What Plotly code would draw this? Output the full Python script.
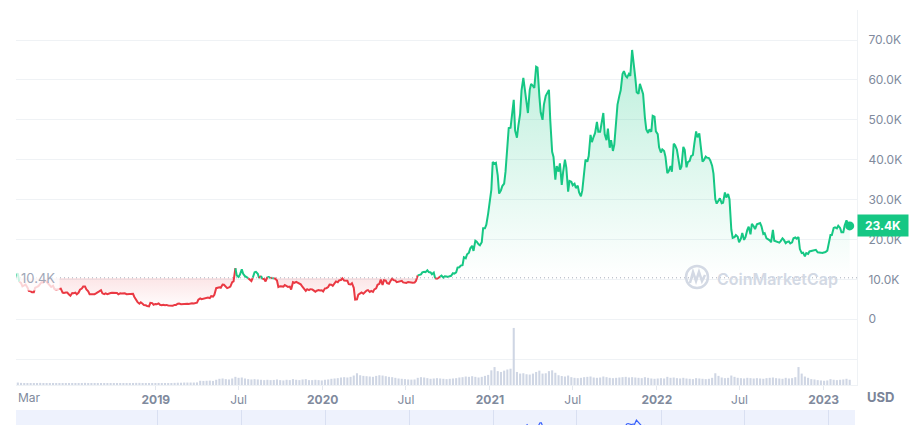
import pandas as pd
import plotly.graph_objects as go

# ---------------- data ----------------
# Monday readings, one per week from 2018-02-26
p2018 = [10400, 11500, 9100, 8600, 8000, 7000, 6800, 8100, 8900, 9250,
         9400, 8700, 8400, 7400, 7600, 6700, 6700, 6200, 6600, 6700,
         6700, 7700, 8200, 7000, 6300, 6300, 6900, 7300, 6300, 6300,
         6600, 6600, 6600, 6500, 6500, 6300, 6400, 6400, 4800, 3900,
         3900, 3500, 3250, 4050, 3850]
p2019 = [4000, 3550, 3550, 3450, 3450, 3600, 3900, 3800, 3800, 3900,
         4000, 3950, 4150, 5250, 5150, 5400, 5300, 5700, 7800, 8000,
         8700, 8100, 8000, 9300, 12800, 10600, 12500, 10800, 10300, 9600,
         11800, 11400, 10900, 10100, 10600, 10300, 10200, 9700, 8300, 8200,
         8300, 8200, 9300, 9400, 8800, 8100, 7100, 7300, 7500, 6900,
         7300, 7250]
p2020 = [7750, 8100, 8650, 8900, 9300, 9850, 9700, 9650, 8750, 7900,
         5000, 6400, 6400, 7200, 6850, 6850, 7750, 8900, 8600, 9700,
         8900, 10200, 9700, 9450, 9650, 9200, 9350, 9250, 9200, 11000,
         11250, 11900, 12300, 11750, 11700, 10150, 10700, 10450, 10700, 10800,
         11550, 11750, 13050, 13550, 15300, 16700, 18400, 19700, 18800, 19300,
         22800, 26500]
p2021 = [32500, 39000, 36000, 32300, 34000, 44000, 48000, 55000, 45500, 51500,
         60500, 55000, 57500, 58500, 63300, 56000, 50000, 56000, 57500, 42000,
         35000, 37000, 33700, 40000, 32000, 34500, 34000, 33500, 30800, 37200,
         39500, 46200, 45800, 49500, 47000, 51700, 44900, 43000, 42200, 49000,
         56000, 61500, 61000, 61500, 67500, 60500, 56500, 57500, 50500, 46700,
         47000, 50800]
p2022 = [46400, 41800, 42200, 36600, 38400, 44000, 42500, 37500, 43200, 38100,
         39700, 41200, 47100, 46600, 39500, 40800, 40400, 38500, 30100, 29900,
         29100, 31800, 31400, 22500, 20600, 20700, 20200, 19900, 22400, 21300,
         23300, 23800, 24100, 21400, 20300, 19800, 22400, 19500, 19200, 20300,
         19100, 19500, 19300, 20500, 20600, 16600, 15800, 16400, 17100, 17200,
         16800, 16700]
p2023 = [16700, 17200, 21100, 22900, 22800, 22900, 21800, 24800, 23400]

# Thursday readings, one per week from 2018-03-01
t2018 = [10900, 9400, 8250, 8700, 7100, 6800, 7900, 8300, 9300, 9700,
         9000, 8100, 7600, 7500, 7700, 6600, 6700, 5900, 6550, 6250,
         7400, 8200, 7500, 6300, 6300, 6500, 7000, 6500, 6500, 6500,
         6650, 6550, 6250, 6450, 6500, 6350, 6450, 5600, 4300, 4250,
         3550, 3300, 4100, 3650]
t2019 = [3800, 3650, 3650, 3600, 3450, 3400, 3600, 3950, 3850, 3850,
         3850, 4000, 4050, 4900, 5050, 5300, 5450, 5800, 6150, 7900,
         7900, 8650, 7800, 8200, 9500, 11000, 11200, 11400, 10600, 9900,
         10400, 11900, 10300, 10100, 9500, 10600, 10400, 10200, 8100, 8250,
         8600, 8100, 7450, 9150, 9200, 8750, 7650, 7550, 7550, 7250,
         7150, 7200]
t2020 = [6950, 7800, 8700, 8400, 9500, 9750, 10250, 9600, 8800, 9050,
         4950, 6200, 6750, 6800, 7300, 7100, 7500, 8650, 9950, 9800,
         9050, 9550, 9800, 9300, 9400, 9250, 9100, 9250, 9150, 9600,
         11100, 11750, 11800, 11850, 11300, 10250, 10350, 10950, 10750, 10600,
         10900, 11450, 12950, 13450, 15550, 16300, 17800, 17150, 19450, 18550,
         22800, 23700, 29000]
t2021 = [39400, 39200, 31500, 33400, 37000, 47900, 51700, 47300, 48400, 57300,
         57900, 51700, 59000, 58000, 63100, 51800, 53800, 56700, 49700, 40700,
         38400, 39100, 36900, 38000, 34700, 33600, 32900, 31800, 32300, 40000,
         40900, 44400, 46700, 47000, 49300, 46400, 47800, 44900, 43800, 53800,
         57400, 62200, 60600, 61000, 64900, 56900, 59000, 56500, 47600, 47600,
         51000, 47100]
t2022 = [43100, 42600, 40700, 37100, 37000, 43600, 40500, 38300, 42500, 39400,
         40900, 43900, 45600, 43500, 39900, 40500, 39800, 36500, 29000, 30300,
         29200, 30500, 30100, 20400, 21100, 19300, 21600, 20600, 23200, 23900,
         22600, 23900, 23300, 21600, 20100, 19300, 19700, 19400, 19600, 19900,
         19400, 19000, 20300, 20200, 17600, 16700, 16600, 17000, 17200, 17400,
         16800, 16600]
t2023 = [16850, 18850, 21100, 23050, 23450, 21800, 23500, 23900]

# weekly volume (billions USD), Mondays from 2018-02-26
v2018 = [14, 15, 13, 12, 12, 11, 11, 12, 13, 12,
         12, 11, 11, 10, 11, 10, 10, 10, 9, 10,
         10, 12, 13, 11, 10, 10, 11, 12, 10, 10,
         9, 9, 9, 9, 9, 9, 10, 10, 13, 13,
         12, 11, 12, 12, 11]
v2019 = [11, 12, 11, 11, 12, 13, 14, 14, 15, 15,
         15, 15, 16, 26, 25, 26, 27, 25, 32, 38,
         40, 36, 34, 40, 50, 44, 46, 40, 36, 34,
         36, 34, 32, 30, 32, 30, 31, 34, 30, 28,
         32, 30, 36, 32, 30, 34, 36, 30, 30, 32,
         30, 28]
v2020 = [32, 34, 38, 40, 42, 46, 48, 46, 50, 58,
         72, 60, 56, 54, 52, 50, 56, 60, 58, 54,
         50, 48, 44, 40, 38, 36, 34, 33, 34, 44,
         48, 46, 42, 38, 40, 42, 40, 38, 36, 38,
         40, 42, 46, 48, 52, 50, 54, 50, 46, 50,
         56, 62]
v2021 = [90, 110, 85, 80, 88, 95, 100, 350, 80, 70,
         72, 66, 64, 70, 80, 88, 70, 72, 85, 90,
         75, 60, 55, 52, 58, 48, 44, 42, 44, 48,
         50, 52, 46, 44, 46, 52, 48, 44, 42, 44,
         46, 48, 50, 46, 48, 46, 44, 42, 48, 44,
         40, 38]
v2022 = [40, 42, 40, 50, 44, 46, 42, 40, 44, 40,
         38, 36, 42, 40, 38, 36, 38, 44, 72, 56,
         46, 42, 44, 58, 50, 44, 42, 40, 44, 42,
         40, 42, 40, 38, 42, 44, 46, 42, 40, 38,
         44, 40, 42, 48, 110, 70, 52, 44, 36, 34,
         30, 28]
v2023 = [26, 28, 36, 32, 30, 32, 34, 38, 32]

mon_prices = p2018 + p2019 + p2020 + p2021 + p2022 + p2023
thu_prices = t2018 + t2019 + t2020 + t2021 + t2022 + t2023
volumes = v2018 + v2019 + v2020 + v2021 + v2022 + v2023

mon_dates = pd.date_range("2018-02-26", periods=len(mon_prices), freq="7D")
thu_dates = pd.date_range("2018-03-01", periods=len(thu_prices), freq="7D")
vol_dates = pd.date_range("2018-02-26", periods=len(volumes), freq="7D")

df = pd.concat([pd.DataFrame({"date": mon_dates, "price": mon_prices}),
                pd.DataFrame({"date": thu_dates, "price": thu_prices})])
df = df.sort_values("date").reset_index(drop=True)
dates = list(df["date"])
prices = list(df["price"])

BASELINE = mon_prices[0]
baseline_label = "10.4K"
last_label = "23.4K"

y_tick_vals = [-10000, 0, 10000, 20000, 30000, 40000, 50000, 60000, 70000]
y_tick_text = ["", "0", "10.0K", "20.0K", "30.0K", "40.0K", "50.0K", "60.0K", "70.0K"]
x_tick_dates = ["2019-01-01", "2019-07-01", "2020-01-01", "2020-07-01", "2021-01-01",
                "2021-07-01", "2022-01-01", "2022-07-01", "2023-01-01"]
x_tick_text = ["<b>2019</b>", "Jul", "<b>2020</b>", "Jul", "<b>2021</b>", "Jul",
               "<b>2022</b>", "Jul", "<b>2023</b>"]
first_month_label = "Mar"

# ---------------- style ----------------
GREEN = "#16c784"
RED = "#ea3943"
GRID = "#eff2f5"
TICK = "#808a9d"
FONT = "Inter, Roboto, sans-serif"

W, H = 919, 425
ML, MR, MT, MB = 16, 62, 10, 0
PW, PH = W - ML - MR, H - MT - MB


def px_x(px):
    return (px - ML) / PW


def px_y(py):
    return (H - MB - py) / PH


fig = go.Figure()

# volume
fig.add_trace(go.Bar(x=vol_dates, y=volumes, yaxis="y2", marker_color="#cfd6e4",
                     marker_line_width=0, hoverinfo="skip"))

# baseline + gradient fill
fig.add_trace(go.Scatter(x=dates, y=[BASELINE] * len(prices), mode="lines",
                         line=dict(width=0), hoverinfo="skip"))
b = BASELINE / 70000
fig.add_trace(go.Scatter(
    x=dates, y=prices, mode="lines", line=dict(width=0), fill="tonexty",
    fillgradient=dict(type="vertical", start=0, stop=70000,
                      colorscale=[[0.0, "rgba(234,57,67,0.0)"],
                                  [b * 0.4, "rgba(234,57,67,0.03)"],
                                  [b - 0.0005, "rgba(234,57,67,0.13)"],
                                  [b, "rgba(22,199,132,0.0)"],
                                  [1.0, "rgba(22,199,132,0.30)"]]),
    hoverinfo="skip"))

# coloured line segments
n = len(prices)
start = 0
runs = []
for i in range(1, n):
    if (prices[i] >= BASELINE) != (prices[start] >= BASELINE):
        runs.append((start, i))
        start = i
runs.append((start, n - 1))
for s, e in runs:
    col = GREEN if prices[s] >= BASELINE else RED
    fig.add_trace(go.Scatter(x=dates[s:e + 1], y=prices[s:e + 1], mode="lines",
                             line=dict(color=col, width=2), hoverinfo="skip"))

# end dot
fig.add_trace(go.Scatter(x=[dates[-1]], y=[prices[-1]], mode="markers",
                         marker=dict(color=GREEN, size=9), hoverinfo="skip"))

# navigator
fig.add_trace(go.Scatter(x=dates, y=prices, xaxis="x3", yaxis="y3", mode="lines",
                         line=dict(color="#3861fb", width=1.2), hoverinfo="skip"))

nav_right = (855 - ML) / PW

fig.update_layout(
    width=W, height=H, margin=dict(l=ML, r=MR, t=MT, b=MB),
    paper_bgcolor="white", plot_bgcolor="white", showlegend=False,
    font=dict(family=FONT, color=TICK, size=12), bargap=0.35,
    xaxis=dict(domain=[0, 1], type="date", range=["2018-03-01", "2023-03-15"],
               tickvals=x_tick_dates, ticktext=x_tick_text, showgrid=False,
               showline=True, linecolor=GRID, ticks="outside", ticklen=4,
               tickcolor="#e3e7ee", tickfont=dict(size=12, color=TICK),
               zeroline=False, anchor="y"),
    yaxis=dict(domain=[px_y(385), 1], range=[-16470, 77520], side="right",
               tickvals=y_tick_vals, ticktext=y_tick_text, gridcolor=GRID,
               zeroline=False, showline=True, linecolor=GRID, ticks="",
               ticklabelstandoff=8, tickfont=dict(size=12, color=TICK)),
    yaxis2=dict(overlaying="y", range=[0, 2300], visible=False),
    xaxis3=dict(domain=[0, nav_right], anchor="y3", type="date",
                range=["2018-02-26", "2023-02-27"], tickvals=x_tick_dates,
                showticklabels=False, showgrid=True, gridcolor="#d9e0f2",
                zeroline=False, showline=False),
    yaxis3=dict(domain=[0, px_y(410)], anchor="x3", range=[60000, 82500],
                visible=False),
)

# shapes
shapes = [
    dict(type="rect", xref="paper", yref="paper", x0=0, x1=nav_right,
         y0=0, y1=px_y(410), fillcolor="#eef2fd", line=dict(width=0), layer="below"),
    dict(type="line", xref="paper", yref="y", x0=0, x1=1, y0=BASELINE, y1=BASELINE,
         line=dict(color="#a7aebb", width=1, dash="1px,3px")),
    dict(type="circle", xref="paper", yref="paper",
         x0=px_x(686), x1=px_x(708), y0=px_y(288), y1=px_y(266),
         line=dict(color="#d3d9e4", width=2.5)),
]
wave = [(690, 283), (693, 272), (696, 281), (699, 272), (702, 281), (705, 275)]
path = "M " + " L ".join(f"{px_x(a):.4f},{px_y(c):.4f}" for a, c in wave)
shapes.append(dict(type="path", xref="paper", yref="paper", path=path,
                   line=dict(color="#d3d9e4", width=2.5)))
fig.update_layout(shapes=shapes)

annotations = [
    dict(x=0, xref="paper", y=BASELINE, yref="y", xanchor="left", yanchor="middle",
         text=baseline_label, showarrow=False, bgcolor="rgba(255,255,255,0.78)",
         borderpad=4, font=dict(size=13, color="#a1a7b8", family=FONT)),
    dict(x=0, xref="paper", y=px_y(397), yref="paper", xanchor="left", yanchor="middle",
         text=first_month_label, showarrow=False, font=dict(size=12, color=TICK)),
    dict(x=px_x(880), xref="paper", y=px_y(397), yref="paper", xanchor="center",
         yanchor="middle", text="<b>USD</b>", showarrow=False,
         font=dict(size=13, color="#7a8499")),
    dict(x=1, xref="paper", y=prices[-1], yref="y", xanchor="left", yanchor="middle",
         text=f"<b>{last_label}</b>", showarrow=False, bgcolor=GREEN, width=48, height=19,
         font=dict(size=12, color="white")),
    dict(x=px_x(715), xref="paper", y=px_y(279), yref="paper", xanchor="left",
         yanchor="middle", text="CoinMarketCap", showarrow=False,
         font=dict(size=16, color="#d3d9e4", family=FONT, weight=600)),
]
fig.update_layout(annotations=annotations)

fig.write_html("out.html", config={"displayModeBar": False},
               post_script="document.body.style.margin='0';")
